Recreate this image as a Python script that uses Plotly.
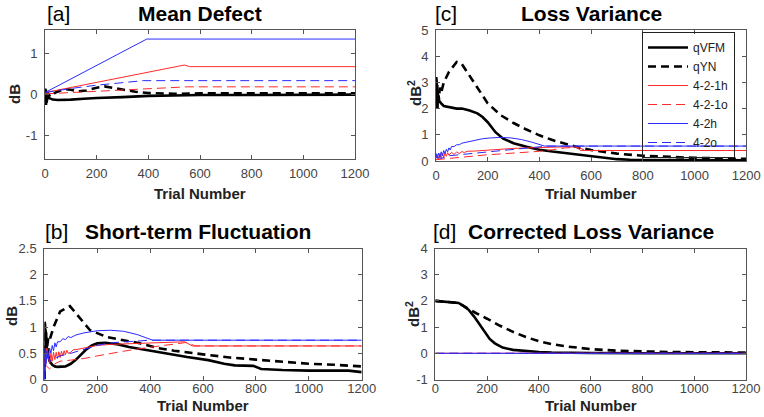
import plotly.graph_objects as go

# ---------------- data ----------------
trial_ticks = [0, 200, 400, 600, 800, 1000, 1200]
series_names = ["qVFM", "qYN", "4-2-1h", "4-2-1o", "4-2h", "4-2o"]

# [a] Mean Defect
md_qvfm_x = [0, 1, 2, 3, 4, 5, 6, 8, 10, 15, 20, 30, 50, 80, 100, 150, 200, 300, 400, 500, 600, 800, 1000, 1200]
md_qvfm_y = [0, 0.15, -0.2, 0.1, -0.25, 0.05, -0.2, -0.1, -0.05, -0.08, -0.1, -0.12, -0.13, -0.13, -0.12, -0.1, -0.08, -0.06, -0.03, -0.02, -0.01, -0.01, 0, 0]
md_qyn_x = [0, 3, 6, 10, 20, 40, 60, 80, 100, 130, 160, 200, 230, 260, 300, 350, 400, 450, 500, 600, 700, 800, 900, 1000, 1100, 1200]
md_qyn_y = [0, 0.12, -0.05, 0.05, -0.05, 0.05, 0.1, 0.13, 0.12, 0.08, 0.1, 0.17, 0.2, 0.17, 0.12, 0.07, 0.04, 0.03, 0.02, 0.03, 0.03, 0.03, 0.03, 0.03, 0.03, 0.03]
md_421h_x = [0, 540, 560, 1200]
md_421h_y = [0.05, 0.72, 0.68, 0.68]
md_421o_x = [0, 100, 300, 550, 1200]
md_421o_y = [0.02, 0.05, 0.12, 0.19, 0.19]
md_42h_x = [0, 394, 1200]
md_42h_y = [0.05, 1.35, 1.35]
md_42o_x = [0, 100, 200, 300, 380, 1200]
md_42o_y = [0.05, 0.15, 0.23, 0.3, 0.34, 0.34]

# [c] Loss Variance
lv_qvfm_x = [0, 1, 2, 3, 4, 5, 6, 7, 8, 10, 12, 15, 20, 30, 50, 80, 100, 130, 160, 180, 200, 230, 260, 300, 350, 400, 450, 520, 600, 650, 700, 750, 900, 1200]
lv_qvfm_y = [2.0, 3.2, 2.1, 3.0, 2.2, 2.9, 2.0, 2.7, 2.3, 2.5, 2.3, 2.25, 2.2, 2.1, 2.05, 2.0, 2.0, 1.93, 1.82, 1.68, 1.48, 1.1, 0.85, 0.68, 0.54, 0.43, 0.36, 0.28, 0.19, 0.13, 0.07, 0.05, 0.04, 0.03]
lv_qyn_x = [0, 5, 10, 15, 20, 30, 50, 80, 100, 130, 160, 200, 250, 300, 350, 400, 450, 500, 550, 600, 700, 800, 900, 1000, 1100, 1200]
lv_qyn_y = [2.2, 2.6, 2.3, 2.8, 2.6, 3.0, 3.4, 3.78, 3.7, 3.25, 2.75, 2.2, 1.75, 1.45, 1.2, 0.98, 0.8, 0.65, 0.52, 0.42, 0.28, 0.2, 0.15, 0.12, 0.1, 0.08]
lv_421h_x = [0, 5, 10, 15, 20, 25, 30, 35, 40, 45, 50, 60, 70, 80, 90, 100, 110, 120, 150, 200, 250, 300, 350, 400, 450, 500, 540, 560, 1200]
lv_421h_y = [0.1, 0.25, 0.05, 0.28, 0.1, 0.3, 0.15, 0.3, 0.18, 0.32, 0.22, 0.33, 0.25, 0.35, 0.28, 0.36, 0.32, 0.37, 0.38, 0.42, 0.45, 0.48, 0.5, 0.52, 0.53, 0.54, 0.54, 0.4, 0.4]
lv_421o_x = [0, 50, 100, 150, 200, 250, 300, 350, 400, 450, 500, 550, 580, 1200]
lv_421o_y = [0.05, 0.1, 0.15, 0.2, 0.24, 0.27, 0.3, 0.33, 0.37, 0.43, 0.5, 0.52, 0.4, 0.4]
lv_42h_x = [0, 5, 10, 15, 20, 25, 30, 35, 40, 45, 50, 55, 60, 70, 80, 90, 100, 120, 150, 180, 210, 250, 290, 330, 370, 400, 420, 1200]
lv_42h_y = [0.3, 0.1, 0.3, 0.15, 0.35, 0.2, 0.4, 0.28, 0.45, 0.35, 0.5, 0.42, 0.55, 0.55, 0.62, 0.62, 0.68, 0.72, 0.8, 0.85, 0.88, 0.9, 0.88, 0.82, 0.72, 0.62, 0.57, 0.57]
lv_42o_x = [0, 20, 50, 100, 150, 200, 250, 300, 350, 400, 430, 1200]
lv_42o_y = [0.15, 0.1, 0.2, 0.25, 0.3, 0.35, 0.4, 0.45, 0.5, 0.55, 0.57, 0.57]

# [b] Short-term Fluctuation
stf_qvfm_x = [0, 1, 2, 3, 4, 5, 6, 7, 8, 9, 10, 12, 15, 20, 30, 40, 50, 80, 100, 120, 140, 160, 180, 200, 230, 280, 320, 400, 470, 540, 620, 680, 720, 790, 820, 900, 1000, 1150, 1200]
stf_qvfm_y = [0, 1.1, 0.5, 1.05, 0.6, 0.95, 0.55, 0.9, 0.6, 0.75, 0.5, 0.6, 0.45, 0.35, 0.28, 0.25, 0.24, 0.25, 0.3, 0.38, 0.48, 0.58, 0.65, 0.69, 0.7, 0.67, 0.62, 0.55, 0.48, 0.43, 0.37, 0.3, 0.27, 0.26, 0.2, 0.18, 0.17, 0.17, 0.14]
stf_qyn_x = [0, 5, 10, 15, 20, 35, 60, 97, 130, 173, 236, 300, 362, 430, 490, 600, 700, 800, 900, 1000, 1100, 1200]
stf_qyn_y = [0, 0.9, 0.6, 0.8, 0.75, 1.0, 1.3, 1.4, 1.2, 0.94, 0.81, 0.75, 0.69, 0.6, 0.55, 0.48, 0.42, 0.38, 0.34, 0.3, 0.28, 0.25]
stf_421h_x = [0, 10, 20, 25, 30, 35, 40, 45, 50, 55, 60, 65, 70, 75, 80, 85, 90, 100, 110, 120, 150, 200, 250, 300, 400, 500, 530, 560, 1200]
stf_421h_y = [0.3, 0.6, 0.3, 0.5, 0.35, 0.52, 0.38, 0.52, 0.4, 0.53, 0.42, 0.54, 0.45, 0.55, 0.47, 0.56, 0.5, 0.52, 0.57, 0.57, 0.6, 0.65, 0.67, 0.68, 0.7, 0.72, 0.72, 0.64, 0.64]
stf_421o_x = [0, 20, 40, 60, 100, 150, 200, 250, 300, 350, 400, 450, 500, 540, 570, 1200]
stf_421o_y = [0.3, 0.2, 0.3, 0.35, 0.37, 0.4, 0.45, 0.5, 0.54, 0.58, 0.62, 0.65, 0.68, 0.71, 0.64, 0.64]
stf_42h_x = [0, 3, 6, 10, 15, 20, 25, 30, 35, 40, 45, 50, 60, 70, 80, 90, 100, 120, 150, 200, 250, 300, 350, 380, 400, 410, 1200]
stf_42h_y = [0, 0.6, 0.3, 0.55, 0.4, 0.6, 0.5, 0.65, 0.55, 0.7, 0.62, 0.72, 0.72, 0.78, 0.76, 0.82, 0.8, 0.85, 0.89, 0.93, 0.94, 0.92, 0.86, 0.8, 0.76, 0.75, 0.75]
stf_42o_x = [0, 10, 20, 40, 60, 100, 150, 200, 250, 300, 350, 400, 1200]
stf_42o_y = [0, 0.5, 0.35, 0.4, 0.45, 0.5, 0.58, 0.65, 0.7, 0.72, 0.74, 0.75, 0.75]

# [d] Corrected Loss Variance
clv_qvfm_x = [0, 30, 60, 90, 110, 130, 150, 170, 190, 210, 230, 260, 300, 350, 400, 450, 500, 600, 800, 1000, 1200]
clv_qvfm_y = [2.0, 1.97, 1.95, 1.92, 1.8, 1.65, 1.4, 1.1, 0.8, 0.55, 0.38, 0.22, 0.13, 0.08, 0.05, 0.03, 0.02, 0.01, 0, 0, 0]
clv_qyn_x = [0, 30, 60, 90, 110, 130, 160, 200, 250, 300, 350, 400, 450, 500, 550, 600, 700, 800, 900, 1000, 1200]
clv_qyn_y = [2.0, 1.97, 1.95, 1.92, 1.8, 1.68, 1.52, 1.32, 1.05, 0.82, 0.62, 0.46, 0.35, 0.27, 0.21, 0.16, 0.1, 0.07, 0.05, 0.04, 0.03]
clv_421h_x = [0, 1200]
clv_421h_y = [0, 0]
clv_421o_x = [0, 1200]
clv_421o_y = [0, 0]
clv_42h_x = [0, 1200]
clv_42h_y = [0, 0]
clv_42o_x = [0, 1200]
clv_42o_y = [0, 0]

# ---------------- styles ----------------
W, H = 764, 417
styles = {
    "qVFM": dict(color="#000000", width=2.6, dash="solid"),
    "qYN": dict(color="#000000", width=2.6, dash="8px,5px"),
    "4-2-1h": dict(color="#ff2a2a", width=1, dash="solid"),
    "4-2-1o": dict(color="#ff2a2a", width=1, dash="9px,5px"),
    "4-2h": dict(color="#2a2aff", width=1, dash="solid"),
    "4-2o": dict(color="#2a2aff", width=1, dash="9px,5px"),
}

panels = [
    ("x", "y", [(md_qvfm_x, md_qvfm_y), (md_qyn_x, md_qyn_y), (md_421h_x, md_421h_y),
                (md_421o_x, md_421o_y), (md_42h_x, md_42h_y), (md_42o_x, md_42o_y)], False),
    ("x2", "y2", [(lv_qvfm_x, lv_qvfm_y), (lv_qyn_x, lv_qyn_y), (lv_421h_x, lv_421h_y),
                  (lv_421o_x, lv_421o_y), (lv_42h_x, lv_42h_y), (lv_42o_x, lv_42o_y)], True),
    ("x3", "y3", [(stf_qvfm_x, stf_qvfm_y), (stf_qyn_x, stf_qyn_y), (stf_421h_x, stf_421h_y),
                  (stf_421o_x, stf_421o_y), (stf_42h_x, stf_42h_y), (stf_42o_x, stf_42o_y)], False),
    ("x4", "y4", [(clv_qvfm_x, clv_qvfm_y), (clv_qyn_x, clv_qyn_y), (clv_421h_x, clv_421h_y),
                  (clv_421o_x, clv_421o_y), (clv_42h_x, clv_42h_y), (clv_42o_x, clv_42o_y)], False),
]

fig = go.Figure()
for xa, ya, data, show in panels:
    for name, (xs, ys) in zip(series_names, data):
        fig.add_trace(go.Scatter(
            x=xs, y=ys, mode="lines", name=name, line=styles[name],
            xaxis=xa, yaxis=ya, legendgroup=name, showlegend=show,
        ))

FONT = "Arial, Liberation Sans, sans-serif"
axis_col = "#555555"


def px_x(p):
    return p / W


def px_y(p):
    return 1 - p / H


def xax(dom, anchor, standoff):
    return dict(domain=dom, anchor=anchor, range=[0, 1200], tickvals=trial_ticks,
                showline=True, mirror="ticks", linecolor=axis_col, linewidth=1,
                ticks="inside", ticklen=4, tickcolor=axis_col, showgrid=False,
                zeroline=False, ticklabelstandoff=standoff, automargin=False,
                tickfont=dict(family=FONT, size=13, color="#444444"))


def yax(dom, anchor, rng, vals, texts):
    return dict(domain=dom, anchor=anchor, range=rng, tickvals=vals, ticktext=texts,
                showline=True, mirror="ticks", linecolor=axis_col, linewidth=1,
                ticks="inside", ticklen=4, tickcolor=axis_col, showgrid=False,
                zeroline=False, ticklabelstandoff=4, automargin=False,
                tickfont=dict(family=FONT, size=13, color="#444444"))


fig.update_layout(
    template="none",
    width=W, height=H, margin=dict(l=0, r=0, t=0, b=0, pad=0, autoexpand=False),
    paper_bgcolor="white", plot_bgcolor="white",
    font=dict(family=FONT, color="#000000"),
    xaxis=xax([px_x(45), px_x(355)], "y", 2),
    yaxis=yax([px_y(159.3), px_y(30)], "x", [-1.57, 1.57], [-1, 0, 1], ["-1", "0", "1"]),
    xaxis2=xax([px_x(436), px_x(746.3)], "y2", 2),
    yaxis2=yax([px_y(161), px_y(30)], "x2", [0, 5], [0, 1, 2, 3, 4, 5], ["0", "1", "2", "3", "4", "5"]),
    xaxis3=xax([px_x(44.3), px_x(361.7)], "y3", -3),
    yaxis3=yax([px_y(379.5), px_y(248.5)], "x3", [0, 2.5], [0, 0.5, 1, 1.5, 2, 2.5],
               ["0", "0.5", "1", "1.5", "2", "2.5"]),
    xaxis4=xax([px_x(435.3), px_x(746)], "y4", -3),
    yaxis4=yax([px_y(379.5), px_y(248.5)], "x4", [-1, 4], [-1, 0, 1, 2, 3, 4],
               ["-1", "0", "1", "2", "3", "4"]),
    legend=dict(x=px_x(642), y=px_y(32), xanchor="left", yanchor="top",
                bgcolor="rgba(255,255,255,0)", bordercolor="#222222", borderwidth=1,
                font=dict(family=FONT, size=12, color="#222222"),
                itemwidth=40, tracegroupgap=0),
)

annotations = []


def ann(text, x, y, size, bold=False, xanchor="center", angle=0, color="#000000"):
    annotations.append(dict(
        text=f"<b>{text}</b>" if bold else text, x=px_x(x), y=px_y(y),
        xref="paper", yref="paper", xanchor=xanchor, yanchor="middle",
        showarrow=False, textangle=angle,
        font=dict(family=FONT, size=size, color=color)))


# panel labels and titles
ann("[a]", 45, 13, 21, xanchor="left")
ann("Mean Defect", 200, 13, 21, bold=True)
ann("[c]", 433, 13, 21, xanchor="left")
ann("Loss Variance", 591, 13, 21, bold=True)
ann("[b]", 43, 231, 21, xanchor="left")
ann("Short-term Fluctuation", 198, 231, 21, bold=True)
ann("[d]", 431, 231, 21, xanchor="left")
ann("Corrected Loss Variance", 591, 231, 21, bold=True)

# axis titles
ann("Trial Number", 200, 193, 15, bold=True, color="#222222")
ann("Trial Number", 591, 193, 15, bold=True, color="#222222")
ann("Trial Number", 203, 405, 15, bold=True, color="#222222")
ann("Trial Number", 591, 405, 15, bold=True, color="#222222")
ann("dB", 15, 94, 15, bold=True, angle=-90, color="#222222")
ann("dB<sup>2</sup>", 415, 93, 15, bold=True, angle=-90, color="#222222")
ann("dB", 11, 316, 15, bold=True, angle=-90, color="#222222")
ann("dB<sup>2</sup>", 412, 314, 15, bold=True, angle=-90, color="#222222")

fig.update_layout(annotations=annotations)

# remove the default page margin so the figure sits at the window's top-left corner
fig.write_html("out.html",
               config={"displayModeBar": False},
               post_script="document.body.style.margin='0';document.body.style.overflow='hidden';")
